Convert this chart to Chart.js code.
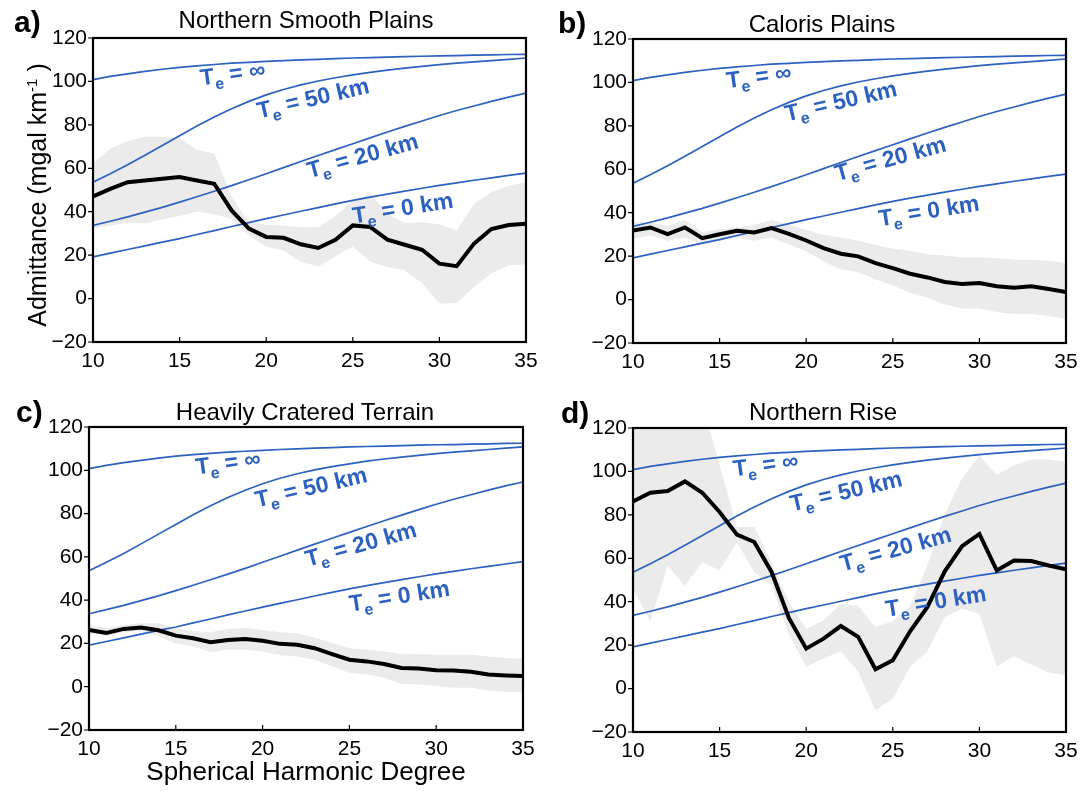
<!DOCTYPE html>
<html>
<head>
<meta charset="utf-8">
<title>Admittance spectra</title>
<script src="https://cdn.jsdelivr.net/npm/chart.js@4.4.1/dist/chart.umd.min.js"></script>
<style>
  body { margin: 0; background: #fff; }
  #fig { position: relative; width: 1091px; height: 792px; font-family: 'Liberation Sans', Arial, Helvetica, sans-serif; color: #000; }
  #fig canvas { position: absolute; }
  .tag { position: absolute; font-weight: bold; font-size: 30px; line-height: 30px; }
  .title { position: absolute; font-size: 24px; line-height: 24px; white-space: nowrap; transform: translateX(-50%); }
  .ytitle { position: absolute; font-size: 25px; line-height: 25px; white-space: nowrap; transform: translate(-50%, -50%) rotate(-90deg); }
  .ytitle sup { font-size: 15px; vertical-align: 9px; line-height: 0; }
  .xtitle { position: absolute; font-size: 26px; line-height: 26px; white-space: nowrap; transform: translate(-50%, -50%); }
</style>
</head>
<body>
<div id="fig">
  <canvas id="chartA" width="545" height="396" style="left:0;top:0"></canvas>
  <canvas id="chartB" width="546" height="396" style="left:545px;top:0"></canvas>
  <canvas id="chartC" width="545" height="396" style="left:0;top:396px"></canvas>
  <canvas id="chartD" width="546" height="396" style="left:545px;top:396px"></canvas>

  <div class="tag" style="left:14px;top:7px">a)</div>
  <div class="tag" style="left:558px;top:8px">b)</div>
  <div class="tag" style="left:16px;top:397px">c)</div>
  <div class="tag" style="left:561px;top:398px">d)</div>

  <div class="title" style="left:306px;top:8px">Northern Smooth Plains</div>
  <div class="title" style="left:822px;top:12px">Caloris Plains</div>
  <div class="title" style="left:305px;top:400px">Heavily Cratered Terrain</div>
  <div class="title" style="left:823px;top:400px">Northern Rise</div>

  <div class="ytitle" style="left:37px;top:195px">Admittance (mgal km<sup>-1</sup> )</div>
  <div class="xtitle" style="left:306px;top:771px">Spherical Harmonic Degree</div>
</div>

<script>
// spherical harmonic degree, one value per degree
const degrees = [10, 11, 12, 13, 14, 15, 16, 17, 18, 19, 20, 21, 22, 23, 24, 25, 26, 27, 28, 29, 30, 31, 32, 33, 34, 35];
const xTicks = [10, 15, 20, 25, 30, 35];
const yTicks = [-20, 0, 20, 40, 60, 80, 100, 120];

// model admittance for elastic thickness Te (same curves in every panel)
const teInf = [100.8, 102.3, 103.5, 104.6, 105.6, 106.5, 107.2, 107.8, 108.4, 108.8, 109.2, 109.6, 109.9, 110.2, 110.5, 110.8, 111.0, 111.2, 111.4, 111.6, 111.8, 111.9, 112.1, 112.2, 112.4, 112.5];
const te50 = [53.6, 57.5, 61.6, 66.0, 70.5, 75.0, 79.5, 83.6, 87.4, 90.8, 93.8, 96.3, 98.4, 100.2, 101.7, 103.0, 104.2, 105.2, 106.1, 106.9, 107.7, 108.4, 109.0, 109.6, 110.2, 110.8];
const te20 = [33.7, 35.6, 37.6, 39.8, 42.0, 44.4, 46.9, 49.4, 52.0, 54.7, 57.5, 60.3, 63.1, 65.9, 68.6, 71.3, 74.0, 76.7, 79.3, 81.8, 84.3, 86.6, 88.7, 90.8, 92.8, 94.6];
const te0 = [19.2, 20.9, 22.6, 24.3, 26.0, 27.6, 29.5, 31.3, 33.2, 35.0, 36.8, 38.5, 40.2, 41.9, 43.6, 45.2, 46.7, 48.1, 49.5, 50.8, 52.1, 53.3, 54.5, 55.6, 56.7, 57.8];
const teLabels = ['\u221E', '50 km', '20 km', '0 km'];

// a) Northern Smooth Plains
const nspObs = [47.0, 50.5, 53.6, 54.4, 55.2, 56.0, 54.4, 52.9, 40.6, 32.2, 28.4, 28.0, 25.0, 23.3, 27.1, 33.7, 33.0, 27.1, 24.8, 22.5, 16.1, 14.9, 25.3, 32.0, 33.9, 34.5];
const nspUpper = [62.3, 69.0, 72.5, 74.5, 74.5, 74.0, 68.4, 66.9, 46.9, 35.4, 34.0, 33.5, 33.0, 33.0, 38.0, 45.0, 48.5, 39.0, 34.8, 35.2, 34.2, 31.4, 43.7, 49.0, 52.0, 53.6];
const nspLower = [32.4, 33.5, 35.0, 34.7, 36.5, 38.0, 40.0, 39.0, 36.5, 29.0, 24.0, 22.0, 17.0, 14.8, 19.5, 24.0, 17.0, 14.5, 13.0, 7.0, -2.3, -2.0, 5.4, 11.5, 15.3, 15.8];

// b) Caloris Plains
const calObs = [31.8, 33.2, 30.1, 33.2, 28.3, 30.1, 31.7, 30.9, 32.9, 30.3, 27.2, 23.7, 21.1, 19.9, 16.8, 14.5, 11.9, 10.2, 8.1, 7.2, 7.6, 6.1, 5.4, 6.1, 4.9, 3.5];
const calUpper = [35.6, 35.6, 34.0, 36.7, 31.0, 32.4, 33.2, 34.4, 36.7, 34.4, 32.1, 29.8, 28.6, 27.1, 25.2, 23.4, 22.5, 20.9, 20.3, 19.4, 19.4, 19.1, 18.3, 18.3, 17.9, 16.8];
const calLower = [28.0, 29.5, 27.1, 28.6, 25.5, 27.1, 28.3, 27.1, 28.6, 25.5, 22.2, 17.6, 13.8, 12.7, 9.2, 6.6, 3.1, 0.8, -2.3, -4.1, -4.1, -5.7, -6.6, -6.6, -7.6, -8.7];

// c) Heavily Cratered Terrain
const hctObs = [26.2, 24.8, 26.7, 27.3, 26.1, 23.6, 22.4, 20.6, 21.6, 22.0, 21.2, 19.8, 19.4, 17.8, 15.1, 12.5, 11.7, 10.5, 8.7, 8.4, 7.6, 7.5, 6.9, 5.6, 5.2, 4.9];
const hctUpper = [28.5, 27.0, 28.5, 29.3, 29.3, 27.0, 25.8, 25.2, 26.7, 27.3, 26.2, 25.2, 24.7, 22.7, 20.1, 17.8, 17.1, 16.3, 15.1, 15.1, 14.8, 14.8, 14.8, 14.0, 13.3, 13.0];
const hctLower = [24.7, 23.6, 25.2, 25.8, 23.2, 20.1, 18.6, 16.0, 17.1, 17.1, 16.3, 14.5, 14.0, 12.5, 9.5, 6.4, 5.6, 4.1, 1.1, 1.1, 0.3, -0.5, -0.5, -1.7, -2.3, -2.7];

// d) Northern Rise
const nrObs = [86.2, 90.2, 91.0, 95.4, 90.2, 81.3, 70.9, 67.5, 53.7, 32.5, 18.4, 23.0, 28.8, 23.8, 8.9, 13.0, 26.4, 37.6, 54.0, 65.6, 71.2, 54.4, 59.0, 58.7, 56.7, 54.9];
const nrUpper = [135, 140, 140, 138, 131, 103, 74.4, 74.4, 58.0, 40.0, 27.6, 31.4, 39.0, 38.0, 28.4, 31.0, 38.0, 57.0, 80.0, 97.0, 107.2, 98.4, 103.0, 105.5, 105.5, 104.4];
const nrLower = [46.0, 30.7, 56.7, 47.2, 58.3, 54.4, 67.5, 53.7, 47.5, 25.0, 10.0, 13.8, 17.2, 7.7, -10.0, -4.6, 10.0, 17.2, 33.0, 36.8, 34.5, 10.0, 15.0, 11.0, 7.4, 6.1];

const BLUE = '#2c61bf';
const BAND = '#ebebeb';
const FONT = "'Liberation Sans', Arial, Helvetica, sans-serif";

const pts = arr => degrees.map((d, i) => ({ x: d, y: arr[i] }));

// box round the plot with inward x ticks and outward y ticks
const framePlugin = {
  id: 'frame',
  afterDraw(chart) {
    const { ctx, chartArea: a, scales: { x, y } } = chart;
    ctx.save();
    ctx.strokeStyle = '#000';
    ctx.lineWidth = 1.2;
    ctx.beginPath();
    xTicks.forEach(v => {
      const px = x.getPixelForValue(v);
      ctx.moveTo(px, a.bottom);
      ctx.lineTo(px, a.bottom - 5);
    });
    yTicks.forEach(v => {
      const py = y.getPixelForValue(v);
      ctx.moveTo(a.left, py);
      ctx.lineTo(a.left - 5, py);
    });
    ctx.stroke();
    ctx.lineWidth = 2.2;
    ctx.strokeRect(a.left, a.top, a.right - a.left, a.bottom - a.top);
    ctx.restore();
  }
};

// rotated "Te = ..." labels placed in data coordinates
const teLabelPlugin = {
  id: 'teLabels',
  afterDatasetsDraw(chart, args, opts) {
    const { ctx, scales: { x, y } } = chart;
    opts.items.forEach(it => {
      ctx.save();
      ctx.translate(x.getPixelForValue(it.at[0]), y.getPixelForValue(it.at[1]));
      ctx.rotate(-it.angle * Math.PI / 180);
      ctx.fillStyle = BLUE;
      ctx.textBaseline = 'middle';
      ctx.font = 'bold 23px ' + FONT;
      ctx.fillText('T', 0, 0);
      let w = ctx.measureText('T').width;
      ctx.font = 'bold 16px ' + FONT;
      ctx.fillText('e', w, 8);
      w += ctx.measureText('e').width;
      ctx.font = 'bold 23px ' + FONT;
      ctx.fillText(' = ' + it.text, w, 0);
      ctx.restore();
    });
  }
};

function makePanel(canvasId, area, obs, upper, lower, labelAt) {
  const cv = document.getElementById(canvasId);
  const W = cv.width, H = cv.height;
  const angles = [8, 13, 15.5, 9];
  const items = teLabels.map((t, i) => ({ text: t, at: labelAt[i], angle: angles[i] }));
  const blue = (arr) => ({
    data: pts(arr), borderColor: BLUE, borderWidth: 1.7, pointRadius: 0, fill: false, tension: 0
  });

  return new Chart(cv.getContext('2d'), {
    type: 'line',
    data: {
      datasets: [
        { data: pts(obs), borderColor: '#000', borderWidth: 4, pointRadius: 0, fill: false, tension: 0 },
        blue(teInf),
        blue(te50),
        blue(te20),
        blue(te0),
        { data: pts(upper), borderColor: 'rgba(0,0,0,0)', borderWidth: 1, pointRadius: 0, backgroundColor: BAND, fill: '+1', tension: 0 },
        { data: pts(lower), borderColor: 'rgba(0,0,0,0)', borderWidth: 1, pointRadius: 0, fill: false, tension: 0 }
      ]
    },
    options: {
      responsive: false,
      animation: false,
      devicePixelRatio: 1,
      layout: { padding: { top: area.t, right: W - area.r, left: 0, bottom: 0 } },
      plugins: {
        legend: { display: false },
        tooltip: { enabled: false },
        filler: { drawTime: 'beforeDatasetsDraw' },
        teLabels: { items }
      },
      scales: {
        x: {
          type: 'linear', min: 10, max: 35,
          grid: { display: false, drawTicks: false },
          border: { display: false },
          afterBuildTicks: s => { s.ticks = xTicks.map(v => ({ value: v })); },
          afterFit: s => { s.height = H - area.b; },
          ticks: { color: '#000', font: { family: FONT, size: 21 }, padding: 7, maxRotation: 0 }
        },
        y: {
          type: 'linear', min: -20, max: 120,
          grid: { display: false, drawTicks: false },
          border: { display: false },
          afterBuildTicks: s => { s.ticks = yTicks.map(v => ({ value: v })); },
          afterFit: s => { s.width = area.l; },
          ticks: {
            color: '#000', font: { family: FONT, size: 21 }, padding: 6,
            callback: v => (v < 0 ? '\u2212' + Math.abs(v) : String(v))
          }
        }
      }
    },
    plugins: [framePlugin, teLabelPlugin]
  });
}

makePanel('chartA', { l: 93, r: 526, t: 38, b: 342 }, nspObs, nspUpper, nspLower,
  [[16.2, 101.0], [19.5, 85.8], [22.4, 58.2], [25.0, 37.5]]);
makePanel('chartB', { l: 88, r: 521, t: 39, b: 343 }, calObs, calUpper, calLower,
  [[15.4, 100.2], [18.8, 84.9], [21.7, 57.3], [24.2, 36.7]]);
makePanel('chartC', { l: 89, r: 523, t: 31, b: 334 }, hctObs, hctUpper, hctLower,
  [[16.15, 100.9], [19.6, 85.7], [22.5, 58.2], [25.0, 37.7]]);
makePanel('chartD', { l: 88, r: 521, t: 32, b: 336 }, nrObs, nrUpper, nrLower,
  [[15.8, 100.5], [19.1, 84.4], [22.0, 56.7], [24.6, 36.0]]);
</script>
</body>
</html>
